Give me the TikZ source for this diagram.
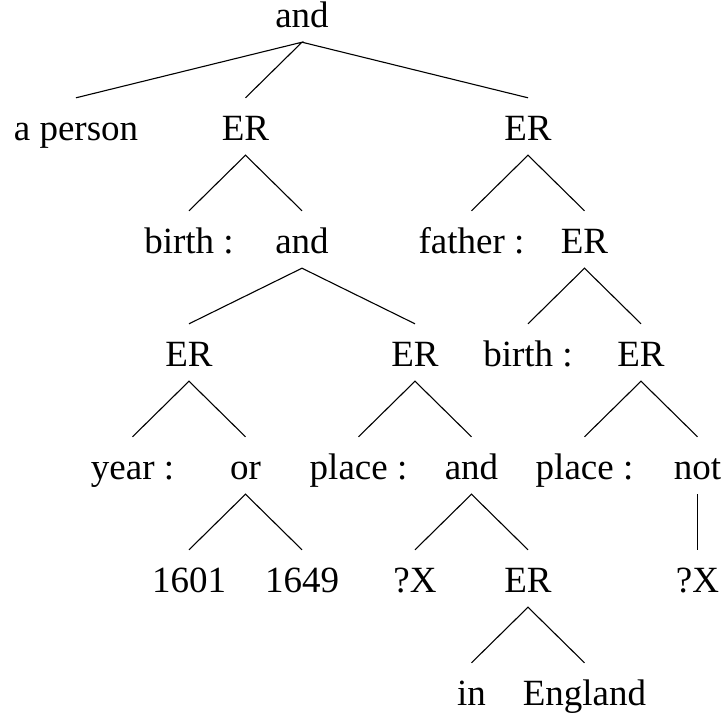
\documentclass[tikz,border=0pt]{standalone}
\usepackage{fontspec}
\setmainfont{Liberation Serif}

\begin{document}
\begin{tikzpicture}[x=56.5pt, y=-113pt,
  every node/.style={anchor=base, font=\fontsize{37}{43}\selectfont, text height=32pt, text depth=5pt,
    inner xsep=0pt, inner ysep=10pt},
  branch/.style={line width=1.1pt}]
\useasboundingbox (-76pt,27pt) rectangle (647pt,-688pt);
% level 0 and 1
\node (root) at (4,0) {and};
\node (person) at (0,1) {a person};
\node (er1) at (3,1) {ER};
\node (er2) at (8,1) {ER};
% level 2
\node (birth1) at (2,2) {birth :};
\node (and1) at (4,2) {and};
\node (father) at (7,2) {father :};
\node (er3) at (9,2) {ER};
% level 3
\node (er4) at (2,3) {ER};
\node (er5) at (6,3) {ER};
\node (birth2) at (8,3) {birth :};
\node (er6) at (10,3) {ER};
% level 4
\node (year) at (1,4) {year :};
\node (or) at (3,4) {or};
\node (place1) at (5,4) {place :};
\node (and2) at (7,4) {and};
\node (place2) at (9,4) {place :};
\node (not) at (11,4) {not};
% level 5 and 6
\node (y1601) at (2,5) {1601};
\node (y1649) at (4,5) {1649};
\node (x1) at (6,5) {?X};
\node (er7) at (8,5) {ER};
\node (x2) at (11,5) {?X};
\node (in) at (7,6) {in};
\node (england) at (9,6) {England};
% branches
\draw[branch] (person.north) -- (root.south) -- (er1.north);
\draw[branch] (root.south) -- (er2.north);
\draw[branch] (birth1.north) -- (er1.south) -- (and1.north);
\draw[branch] (father.north) -- (er2.south) -- (er3.north);
\draw[branch] (er4.north) -- (and1.south) -- (er5.north);
\draw[branch] (birth2.north) -- (er3.south) -- (er6.north);
\draw[branch] (year.north) -- (er4.south) -- (or.north);
\draw[branch] (place1.north) -- (er5.south) -- (and2.north);
\draw[branch] (place2.north) -- (er6.south) -- (not.north);
\draw[branch] (y1601.north) -- (or.south) -- (y1649.north);
\draw[branch] (x1.north) -- (and2.south) -- (er7.north);
\draw[branch] (not.south) -- (x2.north);
\draw[branch] (in.north) -- (er7.south) -- (england.north);
\end{tikzpicture}
\end{document}
